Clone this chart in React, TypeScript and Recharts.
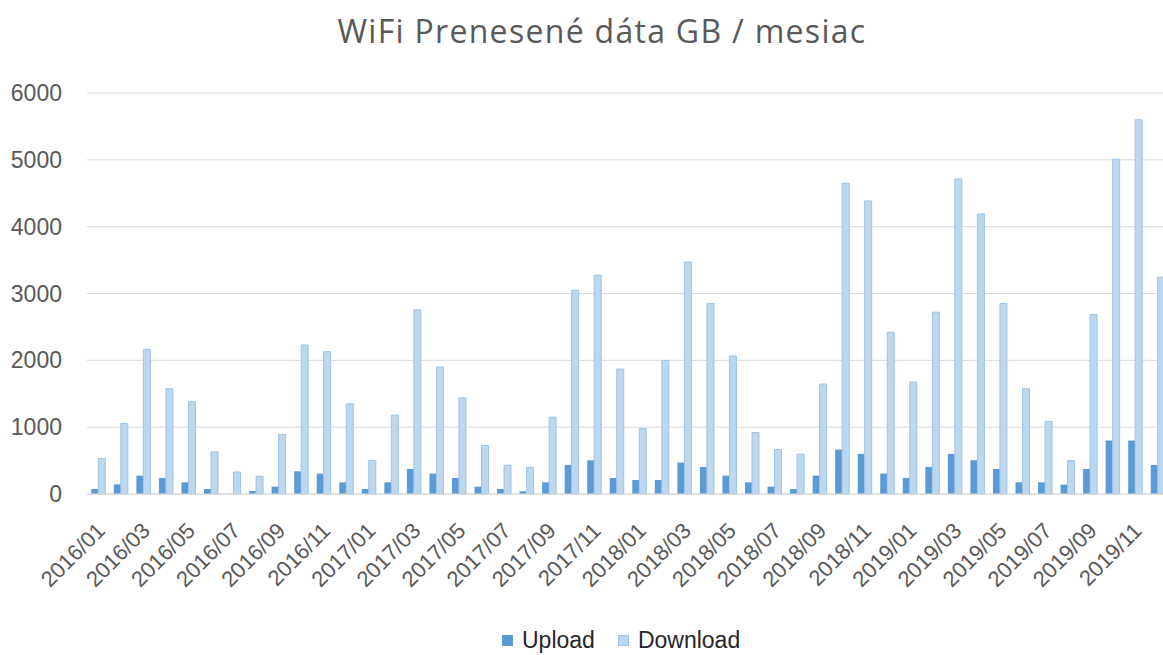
import React from 'react';
import { BarChart, Bar, XAxis, YAxis, CartesianGrid, Legend } from 'recharts';

const months = [
  '2016/01', '2016/02', '2016/03', '2016/04', '2016/05', '2016/06', '2016/07', '2016/08', '2016/09', '2016/10', '2016/11', '2016/12',
  '2017/01', '2017/02', '2017/03', '2017/04', '2017/05', '2017/06', '2017/07', '2017/08', '2017/09', '2017/10', '2017/11', '2017/12',
  '2018/01', '2018/02', '2018/03', '2018/04', '2018/05', '2018/06', '2018/07', '2018/08', '2018/09', '2018/10', '2018/11', '2018/12',
  '2019/01', '2019/02', '2019/03', '2019/04', '2019/05', '2019/06', '2019/07', '2019/08', '2019/09', '2019/10', '2019/11', '2019/12',
];

const upload = [
  75, 145, 275, 240, 175, 75, 5, 45, 110, 340, 305, 175,
  75, 175, 375, 305, 240, 110, 75, 40, 175, 435, 505, 240,
  210, 210, 470, 405, 275, 175, 110, 75, 275, 665, 600, 305,
  240, 405, 600, 505, 375, 175, 175, 140, 375, 800, 800, 435,
];

const download = [
  530, 1055, 2165, 1575, 1380, 630, 330, 265, 890, 2230, 2130, 1350,
  500, 1180, 2755, 1900, 1440, 725, 430, 400, 1150, 3050, 3275, 1870,
  980, 2000, 3470, 2850, 2065, 920, 665, 595, 1645, 4650, 4385, 2420,
  1675, 2720, 4715, 4190, 2850, 1575, 1085, 500, 2685, 5010, 5600, 3245,
];

const yTicks = [0, 1000, 2000, 3000, 4000, 5000, 6000];

const seriesOrder = ['Upload', 'Download'];

const title = 'WiFi Prenesené dáta GB / mesiac';

const data = months.map((m, i) => ({ month: m, Upload: upload[i], Download: download[i] }));

const TEXT = '#595959';
const FONT = '"Liberation Sans", Arial, sans-serif';
const PLOT_BOTTOM = 494;

const XTick = (props: any) => {
  const { payload } = props;
  const x = props.x - 3;
  const y = PLOT_BOTTOM + 27;
  return (
    <text
      x={x}
      y={y}
      transform={`rotate(-45 ${x} ${y})`}
      textAnchor="end"
      dy="0.71em"
      fill={TEXT}
      fontSize={22}
      fontFamily={FONT}
    >
      {payload.value}
    </text>
  );
};

const LegendContent = (props: any) => {
  const items = [...(props.payload || [])].sort(
    (a: any, b: any) => seriesOrder.indexOf(a.value) - seriesOrder.indexOf(b.value)
  );
  return (
    <div style={{ display: 'flex', alignItems: 'center', fontFamily: FONT, fontSize: 23, color: '#262626', lineHeight: '26px' }}>
      {items.map((it: any, idx: number) => (
        <div key={it.value} style={{ display: 'flex', alignItems: 'center', marginRight: idx === 0 ? 23 : 0 }}>
          <div
            style={{
              width: 11,
              height: 11,
              boxSizing: 'border-box',
              background: it.value === 'Download' ? '#BDD7EE' : '#5B9BD5',
              border: it.value === 'Download' ? '1px solid #9DC3E6' : '1px solid #5B9BD5',
              marginRight: 9,
            }}
          />
          <span>{it.value}</span>
        </div>
      ))}
    </div>
  );
};

export default function App() {
  return (
    <div style={{ position: 'fixed', left: 0, top: 0, width: 1163, height: 655, overflow: 'hidden', background: '#fff' }}>
      <div
        style={{
          position: 'absolute',
          left: 0,
          top: 11,
          width: 1204,
          textAlign: 'center',
          fontFamily: '"Open Sans", sans-serif',
          fontSize: 32,
          letterSpacing: 1.3,
          color: TEXT,
          lineHeight: '40px',
          whiteSpace: 'nowrap',
        }}
      >
        {title}
      </div>
      <BarChart
        width={1169}
        height={655}
        data={data}
        margin={{ top: 93, right: 0, bottom: 81, left: 0 }}
        barCategoryGap="19%"
        barGap={0}
      >
        <CartesianGrid vertical={false} stroke="#d9d9d9" strokeWidth={1} />
        <XAxis
          dataKey="month"
          interval={1}
          height={80}
          tickLine={false}
          axisLine={{ stroke: '#d9d9d9', strokeWidth: 1 }}
          tick={<XTick />}
        />
        <YAxis
          width={87}
          domain={[0, 6000]}
          ticks={yTicks}
          axisLine={false}
          tickLine={false}
          tickMargin={19}
          tick={{ fill: TEXT, fontSize: 23, fontFamily: FONT }}
        />
        <Legend
          layout="horizontal"
          verticalAlign="middle"
          align="center"
          wrapperStyle={{ top: 627, left: 502, width: 'auto' }}
          content={<LegendContent />}
        />
        <Bar dataKey="Upload" fill="#5B9BD5" isAnimationActive={false} />
        <Bar dataKey="Download" fill="#BDD7EE" stroke="#9DC3E6" strokeWidth={1} isAnimationActive={false} />
      </BarChart>
    </div>
  );
}
